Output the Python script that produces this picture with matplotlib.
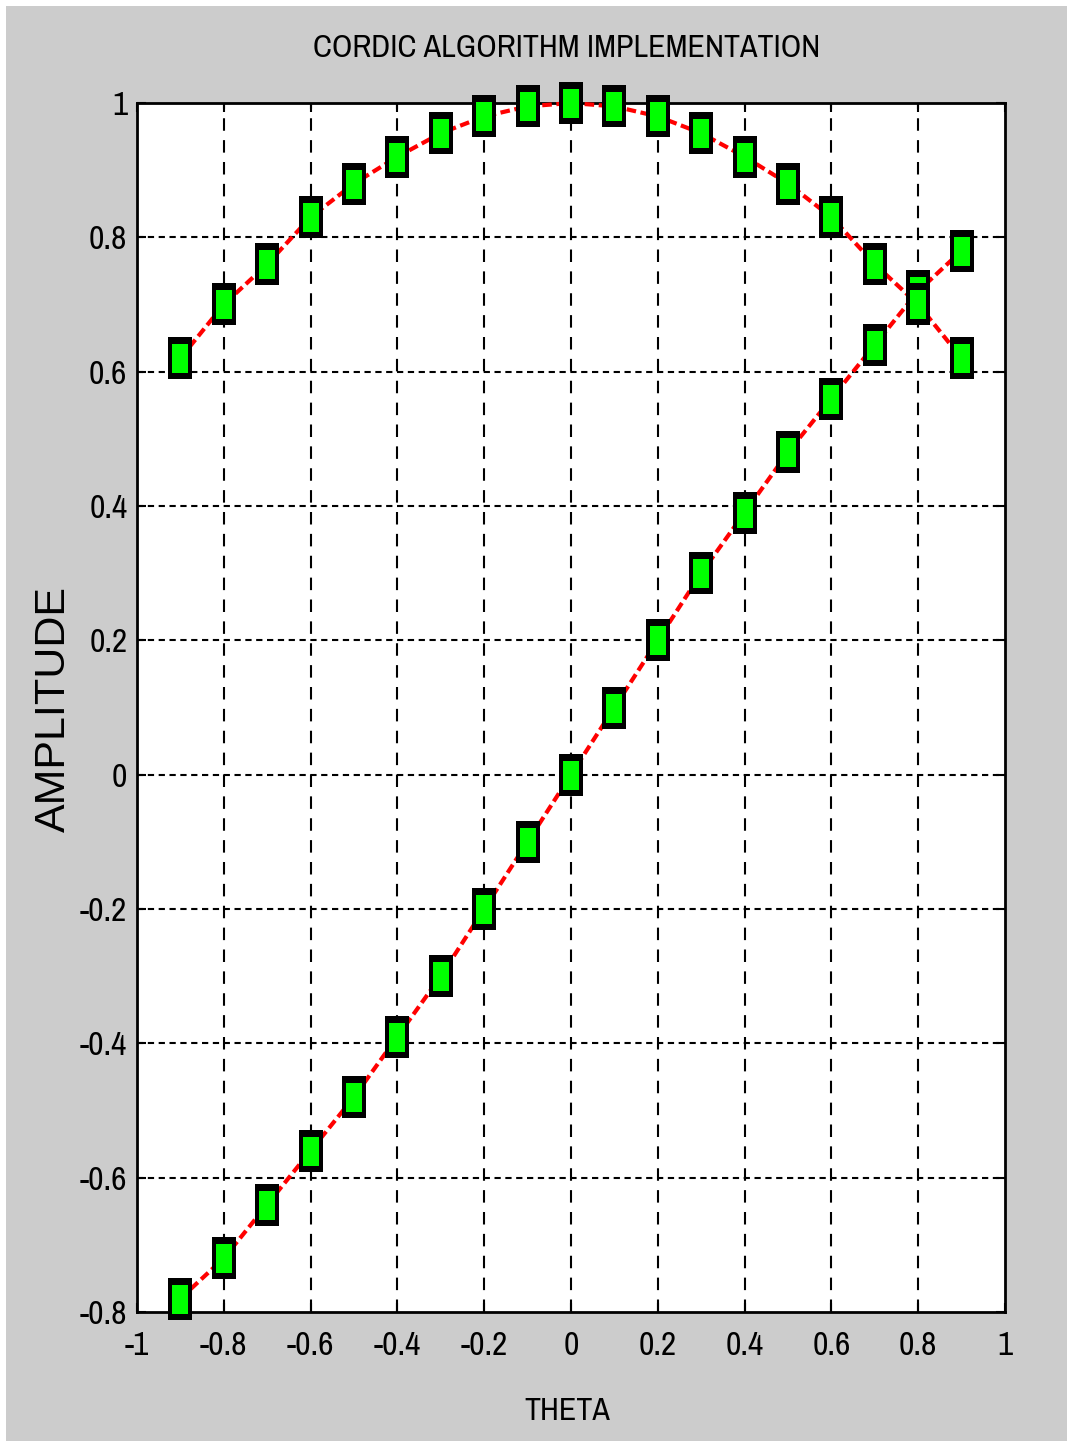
import matplotlib
matplotlib.use("Agg")
import matplotlib.pyplot as plt
from matplotlib.path import Path
from matplotlib.markers import MarkerStyle
from matplotlib.patches import Rectangle
from matplotlib import font_manager as fm

# ---- data ----
theta = [-0.9, -0.8, -0.7, -0.6, -0.5, -0.4, -0.3, -0.2, -0.1, 0.0,
         0.1, 0.2, 0.3, 0.4, 0.5, 0.6, 0.7, 0.8, 0.9]
cos_vals = [0.62, 0.70, 0.76, 0.83, 0.88, 0.92, 0.955, 0.98, 0.995, 1.0,
            0.995, 0.98, 0.955, 0.92, 0.88, 0.83, 0.76, 0.70, 0.62]
sin_vals = [-0.78, -0.72, -0.64, -0.56, -0.48, -0.39, -0.30, -0.20, -0.10, 0.0,
            0.10, 0.20, 0.30, 0.39, 0.48, 0.56, 0.64, 0.72, 0.78]
xticks = [-1, -0.8, -0.6, -0.4, -0.2, 0, 0.2, 0.4, 0.6, 0.8, 1]
xticklabels = ["-1", "-0.8", "-0.6", "-0.4", "-0.2", "0", "0.2", "0.4", "0.6", "0.8", "1"]
yticks = [-0.8, -0.6, -0.4, -0.2, 0, 0.2, 0.4, 0.6, 0.8, 1]
yticklabels = ["-0.8", "-0.6", "-0.4", "-0.2", "0", "0.2", "0.4", "0.6", "0.8", "1"]
title = "CORDIC ALGORITHM IMPLEMENTATION"
xlabel = "THETA"
ylabel = "AMPLITUDE"

W, H = 1067, 1441

# look for a narrow / condensed sans font file, if one is installed
narrow_file = None
best = None
for f in fm.fontManager.ttflist:
    nm = f.name
    fn = f.fname.lower()
    is_narrow = ("narrow" in nm.lower() or "condensed" in nm.lower()
                 or f.stretch in ("condensed", "semi-condensed", "extra-condensed")
                 or "condensed" in fn or "narrow" in fn)
    if not is_narrow or f.style != "normal":
        continue
    w = f.weight if isinstance(f.weight, int) else 400
    if w != 400:
        continue
    if any(s in fn for s in ("bold", "light", "thin", "black", "medium", "italic", "oblique")):
        continue
    if "narrow" in nm.lower() or "narrow" in fn:
        score = 3
    elif "roboto" in fn or "open" in fn:
        score = 2
    else:
        score = 1
    if best is None or score > best[0]:
        best = (score, f.fname)
if best is not None:
    narrow_file = best[1]

if narrow_file:
    def nprop(size):
        return fm.FontProperties(fname=narrow_file, size=size)
    tick_size, title_size, xl_size = 24, 23, 23
else:
    def nprop(size):
        return fm.FontProperties(family=["Liberation Sans", "DejaVu Sans"], size=size)
    tick_size, title_size, xl_size = 21, 21, 21

fig = plt.figure(figsize=(W / 100, H / 100), dpi=100, facecolor="white")
fig.patches.append(Rectangle((6 / W, 0), 1, (H - 6) / H, transform=fig.transFigure,
                             facecolor="#cccccc", edgecolor="none", zorder=-10))

ax = fig.add_axes([137 / W, 1 - 1312 / H, (1005 - 137) / W, (1312 - 103) / H])
ax.set_facecolor("white")
ax.set_xlim(-1, 1)
ax.set_ylim(-0.8, 1)


def rect_marker(half_w):
    p = Path([(-half_w, -0.5), (half_w, -0.5), (half_w, 0.5), (-half_w, 0.5), (-half_w, -0.5)],
             [Path.MOVETO, Path.LINETO, Path.LINETO, Path.LINETO, Path.CLOSEPOLY])
    return MarkerStyle(p)


outer_mk = rect_marker(0.5 * 24.5 / 43)   # black frame, 24.5 x 43 px
inner_mk = rect_marker(0.5 * 16 / 29)     # green body, 16 x 29 px
px = 72 / 100

# sin series drawn first, cos series on top (as in the reference overlap)
z = 3
for vals in (sin_vals, cos_vals):
    ax.plot(theta, vals, color="#ff0000", lw=3.0, linestyle=(0, (2.3, 1.1)),
            zorder=z, clip_on=False)
    ax.plot(theta, vals, linestyle="none", marker=outer_mk, markersize=43 * px,
            markerfacecolor="black", markeredgewidth=0, zorder=z + 0.1, clip_on=False)
    ax.plot(theta, vals, linestyle="none", marker=inner_mk, markersize=29 * px,
            markerfacecolor="#00ff00", markeredgewidth=0, zorder=z + 0.2, clip_on=False)
    z += 1

# grid: vertical dashed, horizontal dotted
for xv in xticks[1:-1]:
    ax.axvline(xv, color="black", lw=1.5, linestyle=(0, (6, 4.5)), zorder=1)
for yv in yticks[1:-1]:
    ax.axhline(yv, color="black", lw=1.5, linestyle=(0, (3, 2.2)), zorder=1)

ax.set_xticks(xticks)
ax.set_xticklabels(xticklabels)
ax.set_yticks(yticks)
ax.set_yticklabels(yticklabels)
ax.tick_params(direction="in", length=6.5, width=1.5, top=True, right=True,
               colors="black")
ax.tick_params(axis="x", pad=14)
ax.tick_params(axis="y", pad=7)
for lab in ax.get_xticklabels() + ax.get_yticklabels():
    lab.set_fontproperties(nprop(tick_size))
for sp in ax.spines.values():
    sp.set_linewidth(2)
    sp.set_color("black")
    sp.set_zorder(2.5)

fig.text(567 / W, 1 - 48 / H, title, ha="center", va="center",
         fontproperties=nprop(title_size), color="black")
fig.text(567 / W, 1 - 1411 / H, xlabel, ha="center", va="center",
         fontproperties=nprop(xl_size), color="black")
fig.text(54 / W, 1 - 709 / H, ylabel, ha="center", va="center", fontsize=31,
         rotation=90, family=["Liberation Sans", "DejaVu Sans"], color="black")

fig.savefig("out.png", dpi=100, facecolor=fig.get_facecolor())
